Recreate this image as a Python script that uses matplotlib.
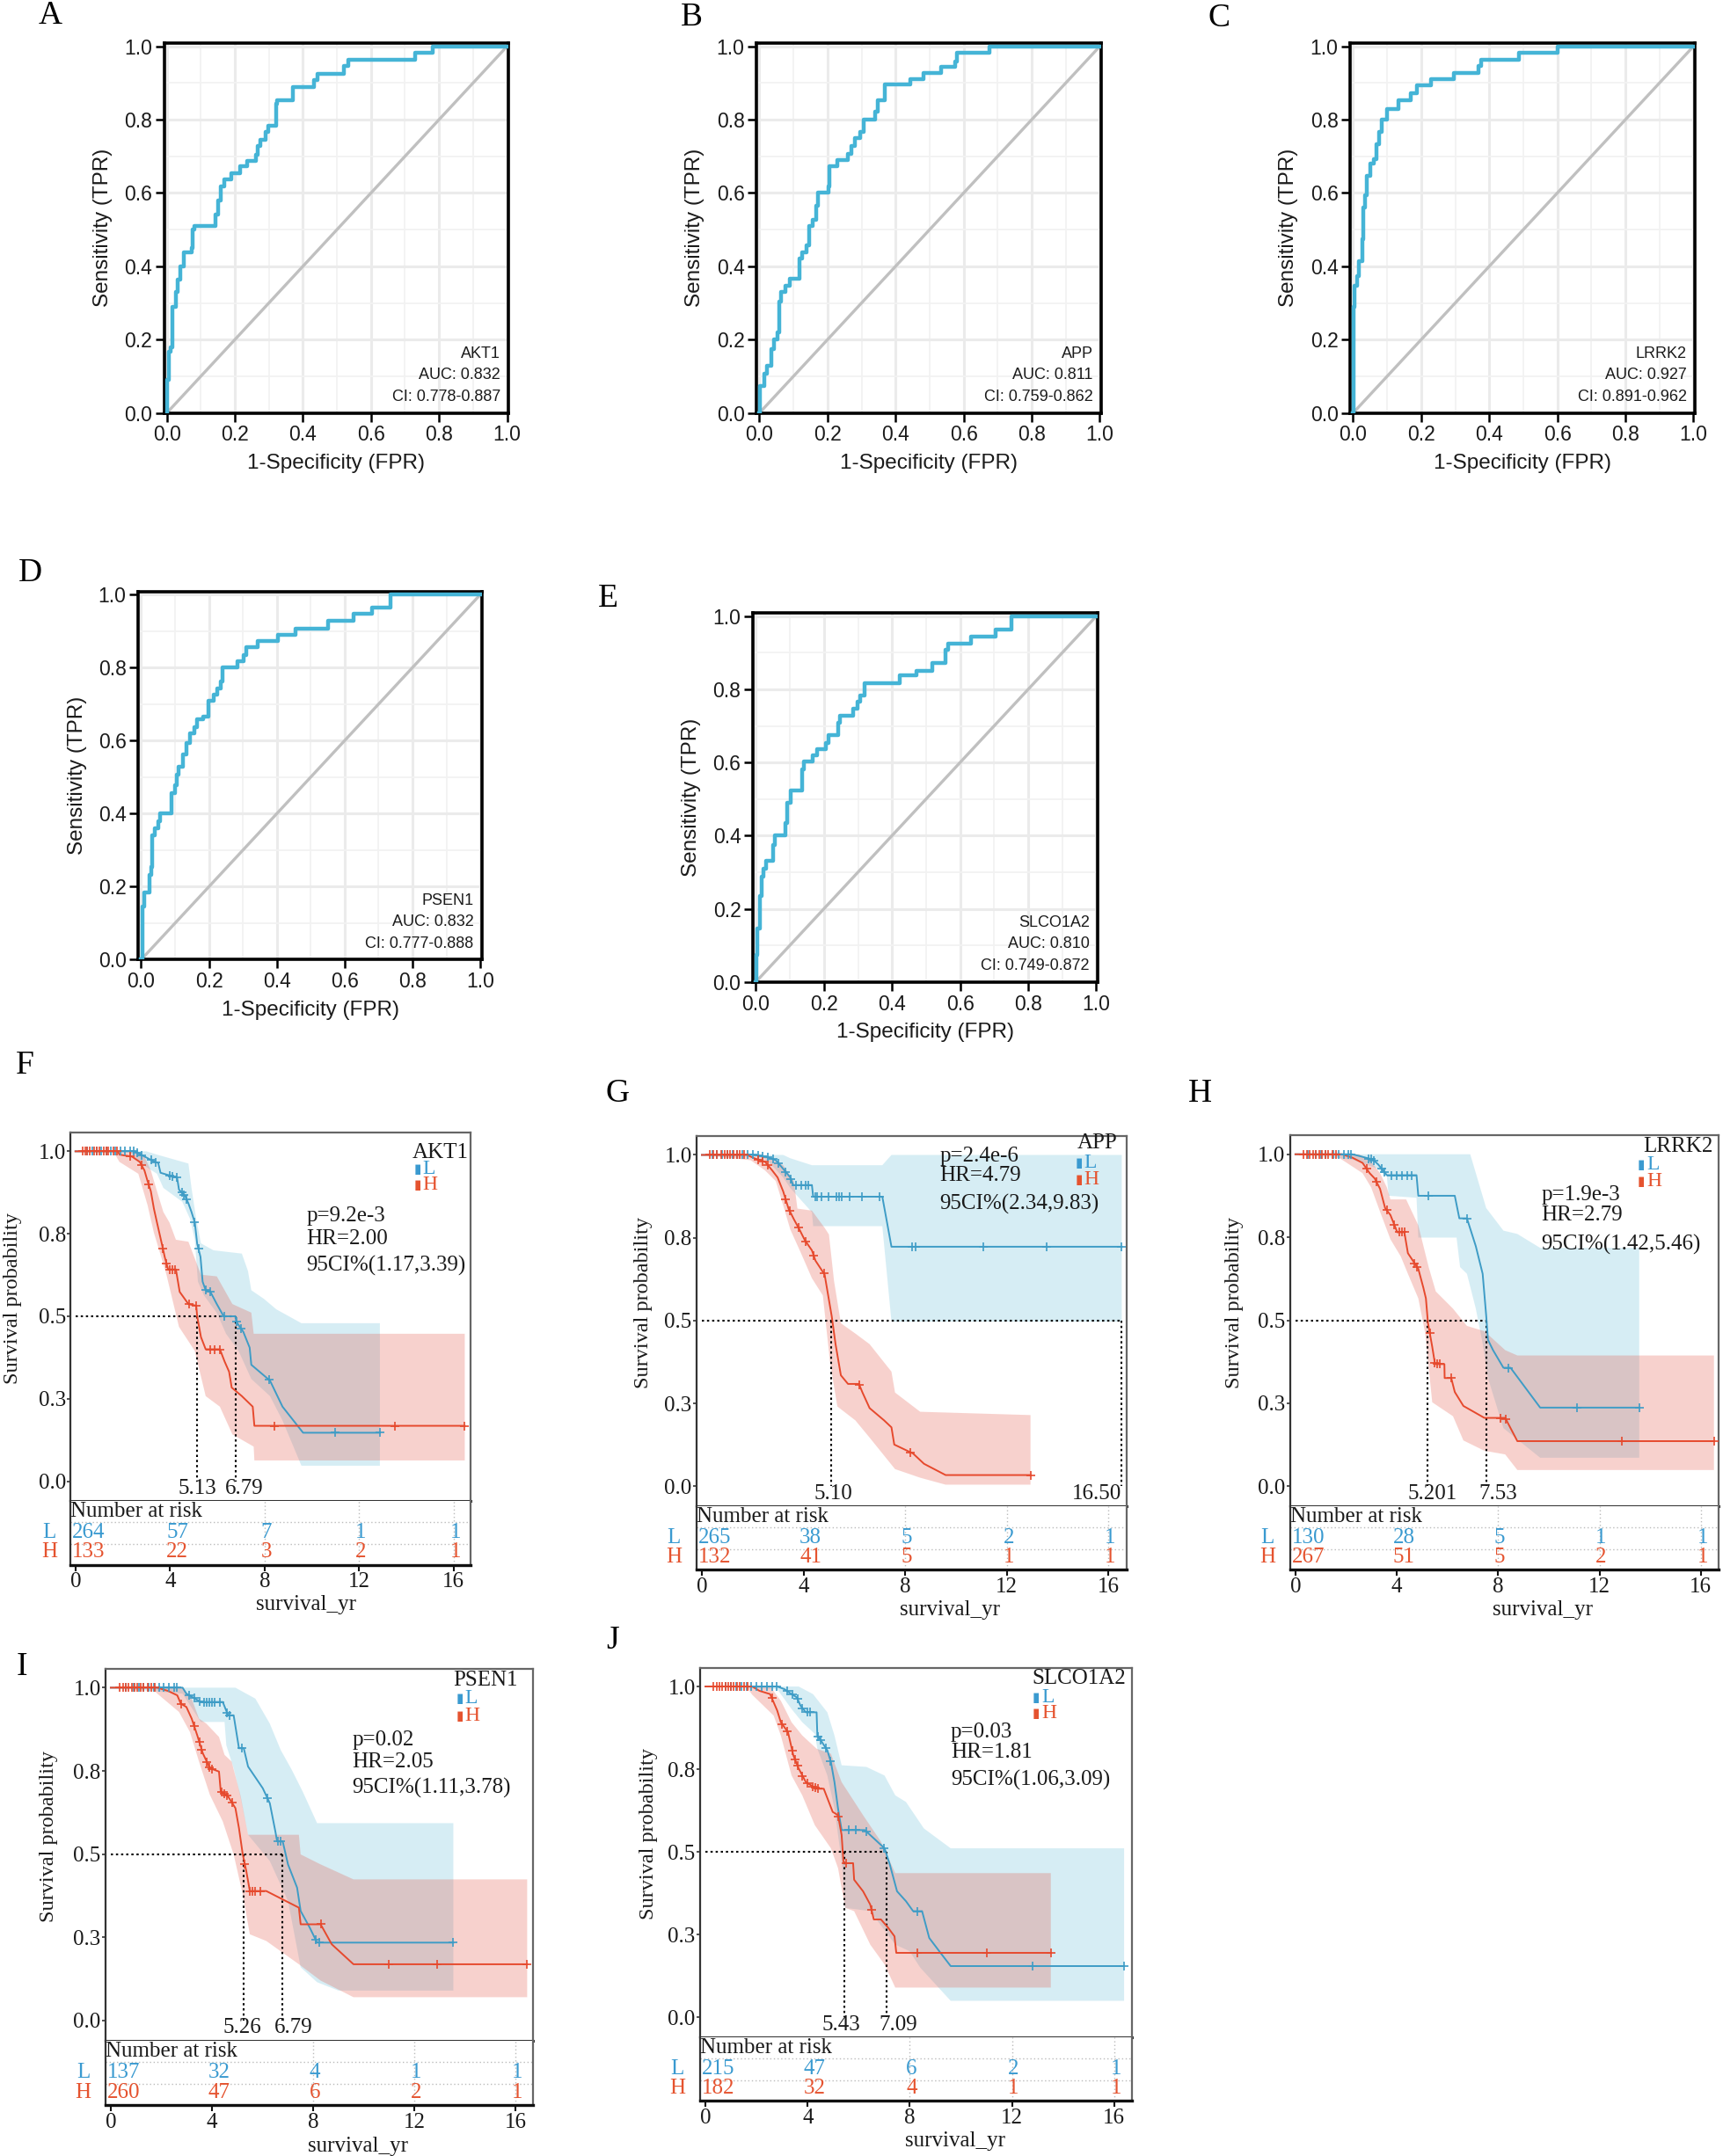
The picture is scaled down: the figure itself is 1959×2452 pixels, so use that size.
import numpy as np
import matplotlib
matplotlib.use("Agg")
import matplotlib.pyplot as plt

# ---------------------------------------------------------------- ROC data
roc_genes = ["AKT1", "APP", "LRRK2", "PSEN1", "SLCO1A2"]
roc_auc = ["0.832", "0.811", "0.927", "0.832", "0.810"]
roc_ci = ["0.778-0.887", "0.759-0.862", "0.891-0.962", "0.777-0.888", "0.749-0.872"]

akt1_fpr = [0, 0.002, 0.007, 0.010, 0.017, 0.026, 0.031, 0.039, 0.051, 0.072, 0.077, 0.082, 0.143,
            0.151, 0.158, 0.169, 0.189, 0.215, 0.235, 0.263, 0.268, 0.276, 0.291, 0.297, 0.322, 0.324,
            0.371, 0.432, 0.443, 0.521, 0.532, 0.731, 0.782, 1.0]
akt1_tpr = [0, 0.09, 0.166, 0.18, 0.29, 0.33, 0.364, 0.40, 0.437, 0.45, 0.50, 0.51, 0.54, 0.58, 0.617,
            0.636, 0.653, 0.672, 0.687, 0.705, 0.727, 0.745, 0.766, 0.784, 0.843, 0.853, 0.89, 0.907,
            0.925, 0.946, 0.963, 0.982, 1.0, 1.0]

app_fpr = [0, 0.002, 0.013, 0.023, 0.034, 0.042, 0.052, 0.058, 0.063, 0.076, 0.088, 0.118, 0.126, 0.139,
           0.145, 0.157, 0.166, 0.173, 0.202, 0.206, 0.228, 0.26, 0.271, 0.281, 0.297, 0.305, 0.339,
           0.347, 0.368, 0.442, 0.481, 0.534, 0.576, 0.581, 0.676, 1.0]
app_tpr = [0, 0.073, 0.107, 0.128, 0.175, 0.20, 0.22, 0.304, 0.33, 0.347, 0.366, 0.42, 0.437, 0.458,
           0.51, 0.527, 0.565, 0.60, 0.617, 0.672, 0.69, 0.706, 0.728, 0.75, 0.766, 0.80, 0.822, 0.852,
           0.895, 0.91, 0.927, 0.944, 0.959, 0.982, 1.0, 1.0]

lrrk2_fpr = [0, 0.002, 0.004, 0.011, 0.016, 0.026, 0.029, 0.035, 0.04, 0.051, 0.062, 0.069, 0.075,
             0.084, 0.10, 0.132, 0.168, 0.187, 0.228, 0.295, 0.369, 0.376, 0.488, 0.601, 1.0]
lrrk2_tpr = [0, 0.29, 0.347, 0.372, 0.415, 0.475, 0.56, 0.595, 0.646, 0.68, 0.693, 0.732, 0.766, 0.80,
             0.83, 0.853, 0.873, 0.893, 0.91, 0.927, 0.946, 0.963, 0.982, 1.0, 1.0]

psen1_fpr = [0, 0.003, 0.005, 0.008, 0.024, 0.031, 0.033, 0.039, 0.051, 0.056, 0.089, 0.099, 0.105,
             0.11, 0.123, 0.133, 0.143, 0.158, 0.164, 0.184, 0.199, 0.215, 0.225, 0.235, 0.24, 0.284,
             0.302, 0.31, 0.343, 0.404, 0.455, 0.552, 0.627, 0.68, 0.736, 1.0]
psen1_tpr = [0, 0.056, 0.146, 0.185, 0.232, 0.254, 0.34, 0.361, 0.378, 0.402, 0.456, 0.477, 0.507,
             0.529, 0.563, 0.593, 0.619, 0.636, 0.658, 0.666, 0.709, 0.725, 0.744, 0.761, 0.80, 0.817,
             0.834, 0.856, 0.873, 0.89, 0.907, 0.929, 0.948, 0.965, 1.0, 1.0]

slco1a2_fpr = [0, 0.001, 0.005, 0.011, 0.017, 0.023, 0.03, 0.051, 0.055, 0.086, 0.092, 0.102, 0.135,
               0.14, 0.167, 0.181, 0.206, 0.214, 0.241, 0.248, 0.285, 0.299, 0.306, 0.32, 0.422, 0.473,
               0.517, 0.557, 0.564, 0.633, 0.704, 0.752, 1.0]
slco1a2_tpr = [0, 0.073, 0.146, 0.236, 0.288, 0.31, 0.331, 0.374, 0.40, 0.434, 0.49, 0.524, 0.58, 0.602,
               0.619, 0.636, 0.653, 0.675, 0.709, 0.727, 0.748, 0.765, 0.782, 0.817, 0.838, 0.851,
               0.873, 0.907, 0.926, 0.943, 0.963, 1.0, 1.0]

roc_ticks = [0.0, 0.2, 0.4, 0.6, 0.8, 1.0]

# ---------------------------------------------------------------- KM data
km_genes = ["AKT1", "APP", "LRRK2", "PSEN1", "SLCO1A2"]
km_p = ["p=9.2e-3", "p=2.4e-6", "p=1.9e-3", "p=0.02", "p=0.03"]
km_hr = ["HR=2.00", "HR=4.79", "HR=2.79", "HR=2.05", "HR=1.81"]
km_ci = ["95CI%(1.17,3.39)", "95CI%(2.34,9.83)", "95CI%(1.42,5.46)", "95CI%(1.11,3.78)", "95CI%(1.06,3.09)"]
km_ytick_vals = [0.0, 0.25, 0.5, 0.75, 1.0]
km_ytick_labels = ["0.0", "0.3", "0.5", "0.8", "1.0"]
risk_times = [0, 4, 8, 12, 16]
xtick_labels = ["0", "4", "8", "12", "16"]

# medians (H, L) and their printed labels
akt1_medians = [5.13, 6.79]
akt1_median_labels = ["5.13", "6.79"]
app_medians = [5.10, 16.50]
app_median_labels = ["5.10", "16.50"]
lrrk2_medians = [5.201, 7.53]
lrrk2_median_labels = ["5.201", "7.53"]
psen1_medians = [5.26, 6.79]
psen1_median_labels = ["5.26", "6.79"]
slco1a2_medians = [5.43, 7.09]
slco1a2_median_labels = ["5.43", "7.09"]

# numbers at risk
akt1_risk_L = [264, 57, 7, 1, 1]
akt1_risk_H = [133, 22, 3, 2, 1]
app_risk_L = [265, 38, 5, 2, 1]
app_risk_H = [132, 41, 5, 1, 1]
lrrk2_risk_L = [130, 28, 5, 1, 1]
lrrk2_risk_H = [267, 51, 5, 2, 1]
psen1_risk_L = [137, 32, 4, 1, 1]
psen1_risk_H = [260, 47, 6, 2, 1]
slco1a2_risk_L = [215, 47, 6, 2, 1]
slco1a2_risk_H = [182, 32, 4, 1, 1]

# --- AKT1
akt1_L_t = [0, 2.5, 2.9, 3.3, 3.5, 3.6, 4.3, 4.38, 4.65, 4.78, 4.91, 5.05, 5.15, 5.29, 5.38, 5.51, 5.71,
            5.98, 6.27, 6.77, 6.8, 7.1, 7.37, 7.44, 8.23, 8.76, 9.63, 12.88]
akt1_L_s = [1.0, 1.0, 0.985, 0.97, 0.965, 0.935, 0.92, 0.884, 0.863, 0.842, 0.816, 0.784, 0.72, 0.68,
            0.605, 0.579, 0.574, 0.537, 0.5, 0.5, 0.484, 0.453, 0.405, 0.353, 0.305, 0.226, 0.147, 0.147]
akt1_L_cens = [0.5, 0.7, 0.9, 1.1, 1.3, 1.5, 1.7, 1.9, 2.1, 2.3, 2.45, 2.6, 2.8, 3.2, 3.4, 4.0, 4.1, 4.3,
               4.5, 4.6, 4.7, 5.05, 5.2, 5.5, 5.7, 6.3, 6.8, 7.0, 8.2, 11.0, 12.88]
akt1_L_up_t = [0, 3.0, 3.45, 4.78, 4.91, 5.11, 5.31, 5.84, 7.04, 7.3, 7.44, 7.97, 8.5, 9.56, 12.88]
akt1_L_up = [1.0, 1.0, 0.99, 0.963, 0.889, 0.795, 0.721, 0.70, 0.69, 0.637, 0.579, 0.553, 0.521, 0.479, 0.479]
akt1_L_lo_t = [0, 2.3, 2.66, 3.45, 3.72, 4.52, 4.85, 5.05, 5.18, 5.44, 5.98, 6.37, 6.9, 7.44, 8.23, 8.76,
               9.56, 12.88]
akt1_L_lo = [1.0, 1.0, 0.968, 0.932, 0.889, 0.847, 0.795, 0.732, 0.605, 0.563, 0.51, 0.447, 0.395, 0.31,
             0.258, 0.184, 0.047, 0.047]
akt1_H_t = [0, 1.8, 1.86, 2.39, 2.72, 2.92, 3.05, 3.19, 3.32, 3.45, 3.65, 3.78, 3.92, 4.25, 4.41, 4.78,
            5.11, 5.15, 5.31, 5.51, 6.11, 6.31, 6.5, 6.61, 7.04, 7.5, 7.57, 16.47]
akt1_H_s = [1.0, 1.0, 0.99, 0.984, 0.968, 0.942, 0.91, 0.879, 0.826, 0.784, 0.721, 0.679, 0.642, 0.642,
            0.574, 0.537, 0.532, 0.5, 0.437, 0.4, 0.4, 0.363, 0.332, 0.284, 0.258, 0.226, 0.168, 0.168]
akt1_H_cens = [0.3, 0.4, 0.5, 0.6, 0.8, 0.9, 1.0, 1.2, 1.3, 1.4, 1.6, 1.75, 2.3, 2.8, 3.1, 3.7, 3.85,
               4.0, 4.1, 4.2, 4.8, 5.1, 5.7, 5.9, 6.1, 8.4, 13.5, 16.47]
akt1_H_up_t = [0, 2.6, 2.92, 3.19, 3.45, 3.72, 3.98, 4.25, 4.78, 5.31, 5.98, 6.64, 7.44, 7.54, 16.47]
akt1_H_up = [1.0, 1.0, 0.984, 0.942, 0.879, 0.816, 0.784, 0.732, 0.726, 0.626, 0.621, 0.537, 0.511,
             0.447, 0.447]
akt1_H_lo_t = [0, 1.6, 1.86, 2.66, 3.05, 3.32, 3.59, 3.85, 4.38, 5.05, 5.51, 6.11, 6.64, 7.54, 7.57, 16.47]
akt1_H_lo = [1.0, 1.0, 0.968, 0.932, 0.837, 0.753, 0.689, 0.626, 0.468, 0.395, 0.258, 0.226, 0.142,
             0.105, 0.063, 0.063]

# --- APP
app_L_t = [0, 2.06, 2.5, 2.91, 3.2, 3.48, 3.59, 4.33, 4.38, 7.1, 7.46, 16.52]
app_L_s = [1.0, 1.0, 0.995, 0.984, 0.958, 0.932, 0.909, 0.909, 0.874, 0.874, 0.723, 0.723]
app_L_cens = [0.4, 0.6, 0.8, 1.0, 1.2, 1.4, 1.6, 1.8, 2.0, 2.2, 2.4, 2.6, 2.8, 3.0, 3.3, 3.5, 3.7, 3.9,
              4.1, 4.2, 4.45, 4.55, 4.7, 5.0, 5.3, 5.4, 5.5, 5.8, 6.3, 7.0, 8.28, 8.42, 11.08, 13.56, 16.52]
app_L_up_t = [0, 3.2, 3.48, 4.33, 7.1, 7.46, 16.52]
app_L_up = [1.0, 1.0, 0.99, 0.969, 0.969, 1.0, 1.0]
app_L_lo_t = [0, 2.3, 2.63, 3.2, 3.48, 4.33, 4.38, 7.1, 7.46, 16.52]
app_L_lo = [1.0, 1.0, 0.979, 0.932, 0.90, 0.827, 0.785, 0.785, 0.497, 0.497]
app_H_t = [0, 1.78, 2.06, 2.49, 2.77, 2.98, 3.2, 3.41, 3.62, 3.84, 4.05, 4.33, 4.47, 4.83, 4.97, 5.11,
           5.26, 5.47, 5.75, 6.18, 6.32, 6.6, 7.17, 7.46, 7.57, 8.31, 8.74, 9.59, 12.93]
app_H_s = [1.0, 1.0, 0.99, 0.979, 0.953, 0.932, 0.89, 0.838, 0.806, 0.775, 0.743, 0.712, 0.681, 0.639,
           0.576, 0.513, 0.429, 0.335, 0.309, 0.309, 0.283, 0.236, 0.199, 0.178, 0.126, 0.099, 0.068,
           0.034, 0.034]
app_H_cens = [0.3, 0.45, 0.6, 0.75, 0.9, 1.0, 1.1, 1.25, 1.4, 1.5, 1.65, 2.2, 2.4, 2.6, 3.3, 3.45, 3.8,
              4.1, 4.4, 4.8, 6.2, 8.2, 12.93]
app_H_up_t = [0, 2.49, 3.2, 3.62, 3.76, 4.33, 4.83, 5.0, 5.2, 5.47, 6.04, 6.6, 7.46, 7.6, 8.59, 12.93]
app_H_up = [1.0, 0.995, 0.969, 0.921, 0.838, 0.832, 0.78, 0.76, 0.62, 0.492, 0.461, 0.429, 0.346, 0.283,
            0.225, 0.215]
app_H_lo_t = [0, 1.92, 2.49, 2.91, 3.2, 3.48, 3.91, 4.33, 4.76, 5.04, 5.33, 6.04, 6.6, 7.6, 8.59, 9.59, 12.93]
app_H_lo = [1.0, 0.984, 0.953, 0.921, 0.848, 0.775, 0.702, 0.628, 0.576, 0.377, 0.241, 0.199, 0.147,
            0.052, 0.026, 0.005, 0.005]

# --- LRRK2
lrrk2_L_t = [0, 2.24, 2.51, 3.06, 3.27, 3.61, 4.78, 4.85, 6.29, 6.47, 6.77, 7.12, 7.39, 7.53, 7.6, 7.8,
             8.21, 8.49, 9.66, 13.57]
lrrk2_L_s = [1.0, 1.0, 0.995, 0.984, 0.969, 0.937, 0.937, 0.875, 0.875, 0.807, 0.807, 0.723, 0.64,
             0.514, 0.441, 0.41, 0.357, 0.357, 0.237, 0.237]
lrrk2_L_cens = [0.5, 0.8, 1.0, 1.2, 1.5, 1.7, 1.9, 2.1, 2.2, 2.9, 3.0, 3.1, 3.4, 3.5, 3.8, 4.0, 4.2, 4.4,
                4.6, 5.23, 6.77, 8.42, 11.1, 13.57]
lrrk2_L_up_t = [0, 6.9, 7.53, 8.21, 8.76, 9.66, 13.57]
lrrk2_L_up = [1.0, 1.0, 0.838, 0.77, 0.76, 0.718, 0.718]
lrrk2_L_lo_t = [0, 2.24, 3.2, 3.61, 3.68, 4.78, 4.85, 6.36, 6.5, 6.77, 7.12, 7.39, 7.6, 8.21, 9.66, 13.57]
lrrk2_L_lo = [1.0, 0.984, 0.958, 0.932, 0.875, 0.869, 0.749, 0.749, 0.66, 0.64, 0.535, 0.43, 0.326,
              0.175, 0.086, 0.086]
lrrk2_H_t = [0, 1.83, 2.24, 2.65, 2.93, 3.13, 3.34, 3.54, 3.75, 4.02, 4.3, 4.44, 4.85, 5.05, 5.15, 5.23,
             5.4, 5.51, 5.88, 5.89, 6.15, 6.29, 6.63, 7.46, 8.28, 8.76, 16.52]
lrrk2_H_s = [1.0, 1.0, 0.99, 0.974, 0.943, 0.927, 0.896, 0.838, 0.817, 0.765, 0.765, 0.702, 0.655,
             0.598, 0.566, 0.493, 0.42, 0.368, 0.368, 0.326, 0.326, 0.284, 0.242, 0.206, 0.206, 0.136,
             0.136]
lrrk2_H_cens = [0.3, 0.45, 0.55, 0.7, 0.8, 0.95, 1.05, 1.2, 1.3, 1.45, 1.6, 2.8, 3.2, 3.6, 3.9, 4.1,
                4.2, 4.3, 4.7, 4.8, 5.3, 5.5, 5.6, 5.7, 6.15, 8.1, 8.3, 12.9, 16.52]
lrrk2_H_up_t = [0, 2.5, 2.93, 3.34, 3.61, 3.75, 4.37, 4.85, 5.26, 5.54, 6.22, 6.77, 7.46, 8.28, 8.76, 16.52]
lrrk2_H_up = [1.0, 1.0, 0.984, 0.943, 0.9, 0.864, 0.864, 0.786, 0.66, 0.587, 0.535, 0.483, 0.467, 0.41,
              0.394, 0.394]
lrrk2_H_lo_t = [0, 1.5, 1.83, 2.65, 2.99, 3.34, 3.75, 4.16, 4.44, 4.85, 5.12, 5.4, 6.22, 6.63, 7.46,
                8.28, 8.76, 16.52]
lrrk2_H_lo = [1.0, 1.0, 0.984, 0.943, 0.9, 0.827, 0.744, 0.692, 0.64, 0.566, 0.462, 0.253, 0.211, 0.138,
              0.107, 0.096, 0.049, 0.049]

# --- PSEN1
psen1_L_t = [0, 2.84, 2.99, 3.56, 4.43, 4.64, 4.86, 5.07, 5.26, 5.43, 6.01, 6.29, 6.51, 6.58, 6.8, 7.01,
             7.37, 7.51, 7.87, 8.16, 13.55]
psen1_L_s = [1.0, 1.0, 0.982, 0.957, 0.957, 0.917, 0.917, 0.818, 0.818, 0.763, 0.698, 0.653, 0.568,
             0.538, 0.538, 0.469, 0.399, 0.329, 0.279, 0.234, 0.234]
psen1_L_cens = [0.6, 0.9, 1.1, 1.3, 1.5, 1.7, 1.9, 2.1, 2.3, 2.5, 2.6, 3.1, 3.3, 3.5, 3.7, 3.8, 3.9, 4.0,
                4.1, 4.3, 4.6, 4.7, 5.2, 6.2, 6.6, 6.7, 8.1, 8.25, 13.55]
psen1_L_up_t = [0, 4.93, 5.72, 6.29, 6.72, 7.16, 7.59, 8.16, 13.55]
psen1_L_up = [1.0, 1.0, 0.967, 0.892, 0.813, 0.753, 0.688, 0.593, 0.593]
psen1_L_lo_t = [0, 2.84, 3.56, 4.5, 4.57, 4.86, 5.14, 5.43, 6.29, 7.01, 7.51, 8.16, 9.0, 13.55]
psen1_L_lo = [1.0, 0.982, 0.897, 0.897, 0.827, 0.758, 0.668, 0.558, 0.479, 0.359, 0.16, 0.115, 0.09, 0.09]
psen1_H_t = [0, 1.84, 2.27, 2.63, 2.77, 2.99, 3.2, 3.42, 3.64, 3.92, 4.28, 4.35, 4.64, 4.93, 5.07, 5.22,
             5.36, 5.5, 6.15, 7.44, 7.51, 8.3, 8.74, 9.6, 16.47]
psen1_H_s = [1.0, 1.0, 0.99, 0.977, 0.952, 0.942, 0.907, 0.857, 0.803, 0.758, 0.748, 0.688, 0.673,
             0.638, 0.578, 0.499, 0.449, 0.389, 0.389, 0.339, 0.289, 0.289, 0.229, 0.169, 0.169]
psen1_H_cens = [0.35, 0.5, 0.6, 0.7, 0.85, 0.95, 1.05, 1.2, 1.3, 1.45, 1.6, 1.75, 2.8, 3.3, 3.5, 3.6,
                3.8, 3.9, 4.0, 4.4, 4.5, 4.6, 4.8, 5.3, 5.5, 5.6, 5.7, 5.9, 8.3, 11.0, 12.9, 16.47]
psen1_H_up_t = [0, 2.84, 3.2, 3.49, 3.78, 4.28, 4.5, 4.78, 5.14, 5.43, 7.44, 7.51, 8.3, 9.6, 16.47]
psen1_H_up = [1.0, 1.0, 0.967, 0.907, 0.892, 0.852, 0.798, 0.778, 0.673, 0.558, 0.558, 0.499, 0.469,
              0.424, 0.424]
psen1_H_lo_t = [0, 1.6, 1.84, 2.7, 3.13, 3.49, 3.92, 4.43, 4.86, 5.22, 5.5, 6.15, 7.44, 8.3, 9.6, 16.47]
psen1_H_lo = [1.0, 1.0, 0.982, 0.927, 0.867, 0.778, 0.678, 0.598, 0.499, 0.379, 0.259, 0.239, 0.169,
              0.12, 0.07, 0.07]

# --- SLCO1A2
slco1a2_L_t = [0, 2.81, 3.09, 3.37, 3.58, 3.72, 3.93, 4.35, 4.38, 4.56, 4.77, 4.91, 5.05, 5.19, 5.33,
               6.24, 6.59, 7.01, 7.22, 7.5, 7.85, 8.13, 8.48, 8.76, 9.25, 9.6, 16.39]
slco1a2_L_s = [1.0, 1.0, 0.992, 0.977, 0.967, 0.942, 0.922, 0.922, 0.852, 0.832, 0.807, 0.772, 0.711,
               0.631, 0.566, 0.566, 0.541, 0.511, 0.461, 0.381, 0.351, 0.321, 0.321, 0.24, 0.19, 0.155,
               0.155]
slco1a2_L_cens = [0.8, 1.0, 1.2, 1.4, 1.6, 1.8, 2.0, 2.2, 2.4, 2.6, 2.8, 3.2, 3.4, 3.6, 3.8, 4.0, 4.1,
                  4.4, 4.5, 4.7, 4.9, 5.6, 5.9, 6.3, 7.0, 8.3, 12.8, 16.39]
slco1a2_L_up_t = [0, 3.65, 4.21, 4.77, 5.05, 5.33, 6.3, 7.01, 7.43, 7.85, 8.55, 9.6, 16.39]
slco1a2_L_up = [1.0, 1.0, 0.977, 0.922, 0.852, 0.762, 0.757, 0.731, 0.671, 0.651, 0.571, 0.511, 0.511]
slco1a2_L_lo_t = [0, 2.81, 3.37, 3.79, 4.28, 4.38, 4.77, 5.05, 5.33, 5.47, 6.45, 7.43, 7.99, 8.41, 9.6,
                  16.39]
slco1a2_L_lo = [1.0, 0.992, 0.932, 0.892, 0.857, 0.812, 0.731, 0.631, 0.471, 0.331, 0.321, 0.22, 0.2,
                0.15, 0.05, 0.05]
slco1a2_H_t = [0, 1.83, 2.11, 2.53, 2.67, 2.81, 2.95, 3.23, 3.44, 3.65, 3.93, 4.35, 4.63, 4.98, 5.19,
               5.33, 5.4, 5.47, 5.78, 5.82, 6.17, 6.45, 6.59, 6.87, 7.15, 7.4, 7.47, 13.52]
slco1a2_H_s = [1.0, 1.0, 0.987, 0.977, 0.952, 0.927, 0.892, 0.862, 0.792, 0.752, 0.711, 0.691, 0.691,
               0.621, 0.611, 0.551, 0.471, 0.466, 0.466, 0.416, 0.381, 0.341, 0.296, 0.296, 0.271, 0.245,
               0.195, 0.195]
slco1a2_H_cens = [0.3, 0.45, 0.55, 0.65, 0.8, 0.9, 1.0, 1.1, 1.25, 1.35, 1.5, 1.65, 2.6, 3.0, 3.2, 3.4,
                  3.5, 3.6, 3.8, 4.0, 4.2, 4.3, 4.4, 5.2, 5.5, 6.5, 8.3, 11.0, 13.52]
slco1a2_H_up_t = [0, 2.53, 2.95, 3.37, 3.79, 4.35, 4.91, 5.33, 5.75, 6.17, 6.87, 7.43, 13.52]
slco1a2_H_up = [1.0, 1.0, 0.957, 0.892, 0.852, 0.812, 0.797, 0.711, 0.661, 0.611, 0.531, 0.436, 0.436]
slco1a2_H_lo_t = [0, 1.6, 1.83, 2.67, 2.95, 3.37, 3.79, 4.28, 4.91, 5.19, 5.47, 5.82, 6.45, 7.01, 7.43,
                  13.52]
slco1a2_H_lo = [1.0, 1.0, 0.975, 0.912, 0.852, 0.731, 0.671, 0.581, 0.511, 0.451, 0.331, 0.321, 0.22,
                0.16, 0.09, 0.09]

# ---------------------------------------------------------------- styling
W, H = 1959, 2452
SANS = "Liberation Sans"
SERIF = "Liberation Serif"
ROC_BLUE = "#45B4D6"
KM_BLUE = "#3E9CC6"
KM_RED = "#E6492D"
BAND_BLUE = "#5FBBD7"
BAND_RED = "#E34B3B"
TXT_BLUE = "#3A9AD0"
TXT_RED = "#E5532F"
TXT = "#1a1a1a"

fig = plt.figure(figsize=(W / 100, H / 100), dpi=100)
fig.patch.set_facecolor("white")


def rect(l, r, t, b):
    return [l / W, 1 - b / H, (r - l) / W, (b - t) / H]


def letter(txt, x, y):
    fig.text(x / W, 1 - y / H, txt, family=SERIF, fontsize=27, ha="center", va="center")


def roc_panel(box, fpr, tpr, gene, auc, ci):
    ax = fig.add_axes(rect(*box))
    ax.set_xlim(-0.008, 1.004)
    ax.set_ylim(0, 1.009)
    ax.set_xticks(roc_ticks)
    ax.set_yticks(roc_ticks)
    ax.set_xticks([0.1, 0.3, 0.5, 0.7, 0.9], minor=True)
    ax.set_yticks([0.1, 0.3, 0.5, 0.7, 0.9], minor=True)
    ax.set_xticklabels(["%.1f" % v for v in roc_ticks], family=SANS, fontsize=16.5, color=TXT)
    ax.set_yticklabels(["%.1f" % v for v in roc_ticks], family=SANS, fontsize=16.5, color=TXT)
    ax.grid(which="major", color="#EBEBEB", lw=2.2)
    ax.grid(which="minor", color="#F2F2F2", lw=1.3)
    ax.set_axisbelow(True)
    ax.tick_params(which="major", length=7, width=1.8, pad=3, color="black")
    ax.tick_params(which="minor", length=0)
    for s in ax.spines.values():
        s.set_linewidth(2.6)
        s.set_color("black")
    ax.plot([0, 1], [0, 1], color="#C0C0C0", lw=2.4, zorder=2)
    ax.plot(fpr, tpr, drawstyle="steps-post", color=ROC_BLUE, lw=3.2, zorder=3)
    ax.text(0.98, 0.162, gene, family=SANS, fontsize=13, ha="right", va="center", color=TXT)
    ax.text(0.98, 0.103, "AUC: " + auc, family=SANS, fontsize=13, ha="right", va="center", color=TXT)
    ax.text(0.98, 0.044, "CI: " + ci, family=SANS, fontsize=13, ha="right", va="center", color=TXT)
    ax.text(0.5, -0.137, "1-Specificity (FPR)", transform=ax.transAxes, family=SANS, fontsize=17.5,
            ha="center", va="center", color=TXT)
    ax.text(-0.179, 0.5, "Sensitivity (TPR)", transform=ax.transAxes, family=SANS, fontsize=17.5,
            ha="center", va="center", rotation=90, color=TXT)
    return ax


roc_boxes = [(186.6, 578.1, 48.9, 469.6), (860.4, 1252, 48.9, 469.6), (1535.4, 1927, 48.9, 469.6),
             (157.4, 547.6, 672.5, 1091.4), (856.3, 1248, 697, 1116.7)]
roc_fprs = [akt1_fpr, app_fpr, lrrk2_fpr, psen1_fpr, slco1a2_fpr]
roc_tprs = [akt1_tpr, app_tpr, lrrk2_tpr, psen1_tpr, slco1a2_tpr]
for i in range(5):
    roc_panel(roc_boxes[i], roc_fprs[i], roc_tprs[i], roc_genes[i], roc_auc[i], roc_ci[i])

for txt, x, y in [("A", 57, 18), ("B", 786, 20), ("C", 1386, 21), ("D", 34, 652), ("E", 691, 681),
                  ("F", 28, 1212), ("G", 702, 1244), ("H", 1364, 1244), ("I", 25, 1896), ("J", 697, 1866)]:
    letter(txt, x, y)

KMFS = 18


def km_panel(box, tbottom, gi, curves, meds, med_labels, med_lx, risk_L, risk_H, lay, ylab_x):
    l, r, t, b = box
    ax = fig.add_axes(rect(l, r, t, b))
    at = fig.add_axes(rect(l, r, b, tbottom))
    ax.set_xlim(-0.2, 16.7)
    ax.set_ylim(-0.06, 1.057)
    at.set_xlim(-0.2, 16.7)
    at.set_ylim(0, 1)
    L, Hh = curves
    for c, col in ((L, BAND_BLUE), (Hh, BAND_RED)):
        ax.fill(np.r_[c["ut"], c["lt"][::-1]], np.r_[c["u"], c["l"][::-1]], color=col, alpha=0.25,
                lw=0, zorder=1)
    mx = max(meds)
    ax.plot([0, mx], [0.5, 0.5], color="black", ls=(0, (1.2, 1.6)), lw=1.5, zorder=2)
    for m in meds:
        ax.plot([m, m], [0.5, 0.0], color="black", ls=(0, (1.2, 1.6)), lw=1.5, zorder=2)
    for lab, x in zip(med_labels, med_lx):
        ax.text(x, -0.022, lab, family=SERIF, fontsize=KMFS, ha="center", va="center", color=TXT)
    for c, col in ((L, KM_BLUE), (Hh, KM_RED)):
        ax.plot(c["t"], c["s"], color=col, lw=1.4, zorder=3)
        cy = np.interp(c["cens"], c["t"], c["s"])
        ax.plot(c["cens"], cy, ls="none", marker="+", ms=7, mew=1.2, color=col, zorder=4)
    ax.set_yticks(km_ytick_vals)
    ax.set_yticklabels(km_ytick_labels, family=SERIF, fontsize=KMFS, color=TXT)
    ax.set_xticks([])
    ax.tick_params(axis="y", length=3, width=1.2, pad=1, color="#333333")
    for s in ax.spines.values():
        s.set_color("#666666")
        s.set_linewidth(1.6)
    ax.spines["left"].set_color("#333333")
    ax.spines["bottom"].set_color("#333333")
    ax.spines["bottom"].set_linewidth(2.2)
    gx, gy, sqx, ly, hy, px, pys = lay
    ax.text(gx, gy, km_genes[gi], transform=ax.transAxes, family=SERIF, fontsize=KMFS, ha="right",
            va="center", color=TXT)
    for yy, lab, col in ((ly, "L", TXT_BLUE), (hy, "H", TXT_RED)):
        ax.text(sqx, yy, "\u25AE", transform=ax.transAxes, family="DejaVu Sans", fontsize=11,
                ha="center", va="center", color=col)
        ax.text(sqx + 0.012, yy, lab, transform=ax.transAxes, family=SERIF, fontsize=KMFS - 1,
                ha="left", va="center", color=col)
    for txt, yy in zip([km_p[gi], km_hr[gi], km_ci[gi]], pys):
        ax.text(px, yy, txt, transform=ax.transAxes, family=SERIF, fontsize=KMFS, ha="left",
                va="center", color=TXT)
    ax.text(ylab_x, 0.55, "Survival probability", transform=ax.transAxes, family=SERIF,
            fontsize=KMFS - 0.5, rotation=90, ha="center", va="center", color=TXT)
    # risk table
    for x in [8, 12, 16]:
        at.plot([x, x], [0, 1], color="#BBBBBB", ls=(0, (1, 2)), lw=1.0)
    for yy in [0.672, 0.328]:
        at.plot([-0.2, 16.7], [yy, yy], color="#BBBBBB", ls=(0, (1, 2)), lw=1.0)
    at.text(0.0, 0.836, "Number at risk", transform=at.transAxes, family=SERIF, fontsize=KMFS,
            ha="left", va="center", color=TXT)
    for x, nL, nH in zip(risk_times, risk_L, risk_H):
        at.text(x - 0.15, 0.508, str(nL), family=SERIF, fontsize=KMFS, ha="left", va="center",
                color=TXT_BLUE)
        at.text(x - 0.15, 0.197, str(nH), family=SERIF, fontsize=KMFS, ha="left", va="center",
                color=TXT_RED)
    at.text(-0.053, 0.508, "L", transform=at.transAxes, family=SERIF, fontsize=KMFS, ha="center",
            va="center", color=TXT_BLUE)
    at.text(-0.053, 0.197, "H", transform=at.transAxes, family=SERIF, fontsize=KMFS, ha="center",
            va="center", color=TXT_RED)
    at.set_yticks([])
    at.set_xticks(risk_times)
    at.set_xticklabels(xtick_labels, family=SERIF, fontsize=KMFS, color=TXT)
    at.tick_params(axis="x", length=5, width=1.5, pad=1, color="#111111")
    for s in at.spines.values():
        s.set_color("#666666")
        s.set_linewidth(1.6)
    at.spines["top"].set_visible(False)
    at.spines["left"].set_color("#333333")
    at.spines["bottom"].set_color("#111111")
    at.spines["bottom"].set_linewidth(2.4)
    at.text(0.59, -0.63, "survival_yr", transform=at.transAxes, family=SERIF, fontsize=KMFS,
            ha="center", va="center", color=TXT)


def curve(t, s, cens, ut, u, lt, lo):
    return {"t": np.array(t), "s": np.array(s), "cens": np.array(cens), "ut": np.array(ut),
            "u": np.array(u), "lt": np.array(lt), "l": np.array(lo)}


km_curves = [
    (curve(akt1_L_t, akt1_L_s, akt1_L_cens, akt1_L_up_t, akt1_L_up, akt1_L_lo_t, akt1_L_lo),
     curve(akt1_H_t, akt1_H_s, akt1_H_cens, akt1_H_up_t, akt1_H_up, akt1_H_lo_t, akt1_H_lo)),
    (curve(app_L_t, app_L_s, app_L_cens, app_L_up_t, app_L_up, app_L_lo_t, app_L_lo),
     curve(app_H_t, app_H_s, app_H_cens, app_H_up_t, app_H_up, app_H_lo_t, app_H_lo)),
    (curve(lrrk2_L_t, lrrk2_L_s, lrrk2_L_cens, lrrk2_L_up_t, lrrk2_L_up, lrrk2_L_lo_t, lrrk2_L_lo),
     curve(lrrk2_H_t, lrrk2_H_s, lrrk2_H_cens, lrrk2_H_up_t, lrrk2_H_up, lrrk2_H_lo_t, lrrk2_H_lo)),
    (curve(psen1_L_t, psen1_L_s, psen1_L_cens, psen1_L_up_t, psen1_L_up, psen1_L_lo_t, psen1_L_lo),
     curve(psen1_H_t, psen1_H_s, psen1_H_cens, psen1_H_up_t, psen1_H_up, psen1_H_lo_t, psen1_H_lo)),
    (curve(slco1a2_L_t, slco1a2_L_s, slco1a2_L_cens, slco1a2_L_up_t, slco1a2_L_up, slco1a2_L_lo_t,
           slco1a2_L_lo),
     curve(slco1a2_H_t, slco1a2_H_s, slco1a2_H_cens, slco1a2_H_up_t, slco1a2_H_up, slco1a2_H_lo_t,
           slco1a2_H_lo)),
]
km_boxes = [((80.4, 534.6, 1288, 1707.1), 1779.5), ((792.2, 1280.6, 1292, 1713), 1785.4),
            ((1467.1, 1953.9, 1291.2, 1713), 1785.4), ((120.2, 606, 1897.8, 2320.6), 2394.3),
            ((796.3, 1287.1, 1896.6, 2316.9), 2389.4)]
km_meds = [akt1_medians, app_medians, lrrk2_medians, psen1_medians, slco1a2_medians]
km_med_labels = [akt1_median_labels, app_median_labels, lrrk2_median_labels, psen1_median_labels,
                 slco1a2_median_labels]
km_med_lx = [[5.17, 7.13], [5.18, 15.55], [5.4, 8.0], [5.19, 7.23], [5.3, 7.54]]
km_risk = [(akt1_risk_L, akt1_risk_H), (app_risk_L, app_risk_H), (lrrk2_risk_L, lrrk2_risk_H),
           (psen1_risk_L, psen1_risk_H), (slco1a2_risk_L, slco1a2_risk_H)]
km_lay = [
    (0.995, 0.946, 0.868, 0.901, 0.859, 0.59, (0.774, 0.712, 0.638)),
    (0.98, 0.98, 0.89, 0.927, 0.882, 0.566, (0.946, 0.893, 0.817)),
    (0.988, 0.969, 0.82, 0.921, 0.876, 0.586, (0.84, 0.784, 0.705)),
    (0.964, 0.968, 0.828, 0.92, 0.874, 0.577, (0.807, 0.749, 0.679)),
    (0.985, 0.97, 0.778, 0.919, 0.876, 0.58, (0.825, 0.771, 0.695)),
]
lay_ylab = [-0.146, -0.125, -0.131, -0.133, -0.12]

for i in range(5):
    box, tb = km_boxes[i]
    km_panel(box, tb, i, km_curves[i], km_meds[i], km_med_labels[i], km_med_lx[i],
             km_risk[i][0], km_risk[i][1], km_lay[i], lay_ylab[i])

fig.savefig("out.png", dpi=100, facecolor="white")
